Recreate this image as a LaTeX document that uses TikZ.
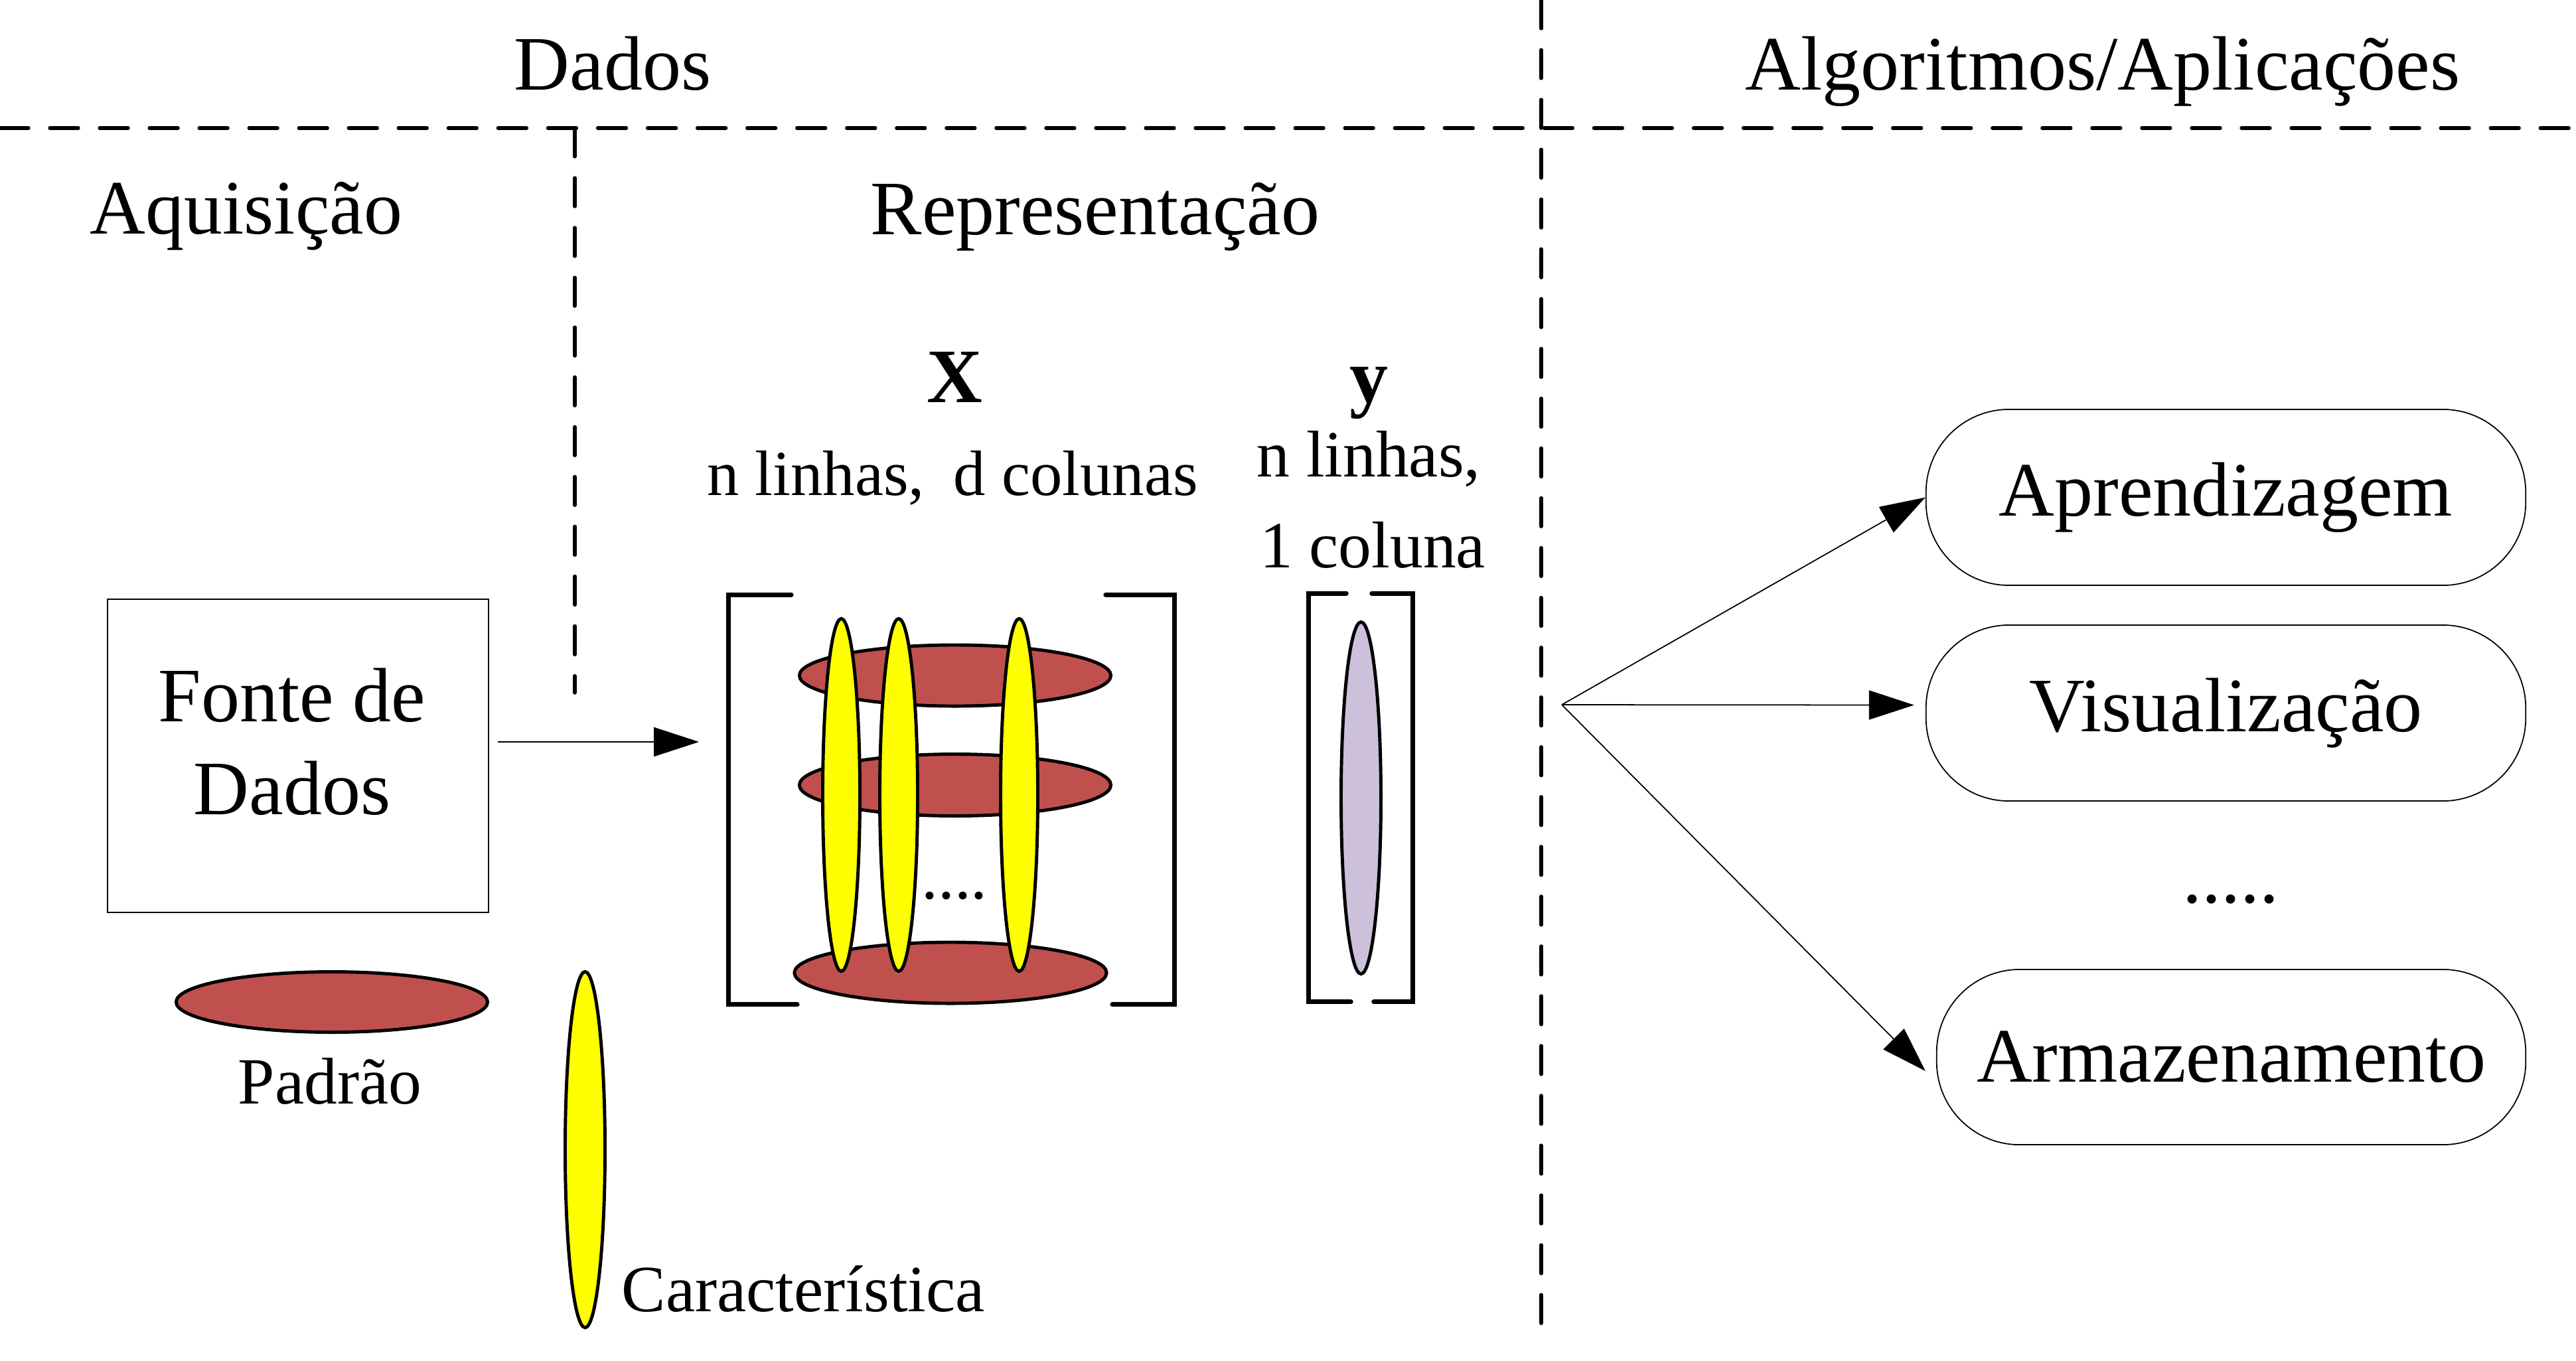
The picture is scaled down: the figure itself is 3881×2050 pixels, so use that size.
\documentclass[tikz,border=0pt]{standalone}
\usepackage{fontspec}
\setmainfont{Liberation Serif}
\usetikzlibrary{shapes.geometric,arrows.meta,calc}
\definecolor{pred}{HTML}{C0504D}
\definecolor{pyel}{HTML}{FFFF00}
\definecolor{plav}{HTML}{CCC0DA}
\begin{document}
\begin{tikzpicture}[x=0.01cm,y=-0.01cm,
  big/.style={font=\fontsize{33}{40}\selectfont, inner sep=0, anchor=base},
  small/.style={font=\fontsize{28.3}{34}\selectfont, inner sep=0, anchor=base},
  divider/.style={line width=1.5pt, line cap=round, dash pattern=on 0.43cm off 0.32cm},
  brk/.style={line width=2pt, line cap=round},
  blob/.style={ellipse, draw, line width=1.4pt, inner sep=0},
  pat/.style={blob, fill=pred},
  feat/.style={blob, fill=pyel},
  app/.style={draw, line width=0.5pt, rounded corners=1.25cm, minimum width=9.03cm, minimum height=2.65cm, font=\fontsize{33}{40}\selectfont, inner sep=0},
  arr/.style={line width=0.5pt, -{Triangle[length=0.68cm,width=0.44cm]}}
]
\useasboundingbox (0,0) rectangle (3881,2050);

% dividers
\coordinate (hl) at (0,193);
\coordinate (hr) at (3881,193);
\coordinate (vt) at (2322,0);
\coordinate (vb) at (2322,2000);
\coordinate (st) at (866,193);
\coordinate (sb) at (866,1044);
\draw[divider] (hl) -- (hr);
\draw[divider] (vt) -- (vb);
\draw[divider] (st) -- (sb);

% headings
\node[big] (tDados) at (923,135) {Dados};
\node[big] (tAlg) at (3168,135) {Algoritmos/Aplicações};
\node[big] (tAq) at (371,352) {Aquisição};
\node[big] (tRep) at (1650,353) {Representação};

% X and y captions
\node[big] (tX) at (1438,606) {\bfseries X};
\node[big] (ty) at (2062,606) {\bfseries y};
\node[font=\fontsize{27.5}{33}\selectfont, inner sep=0, anchor=base] (tXdim) at (1435,746) {n linhas,\hspace{0.44cm}d colunas};
\node[small] (ty1) at (2062,718) {n linhas,};
\node[small] (ty2) at (2068,855) {1 coluna};

% source box
\node[draw, line width=0.5pt, minimum width=5.74cm, minimum height=4.72cm, inner sep=0] (fonte) at (449,1139) {};
\node[big] (tf1) at (440,1087) {Fonte de};
\node[big] (tf2) at (440,1227) {Dados};

% legend
\node[pat, minimum width=4.69cm, minimum height=0.91cm] (legP) at (500,1510) {};
\node[small] (tPad) at (497,1663) {Padrão};
\node[feat, minimum width=0.60cm, minimum height=5.36cm] (legF) at (881.5,1732.5) {};
\node[small, anchor=base west] (tCar) at (936,1976) {Característica};

% X matrix
\node[inner sep=0, minimum width=6.71cm, minimum height=6.16cm] (Xmat) at (1433.5,1205) {};
\draw[brk] ($(Xmat.north west)+(95,0)$) -- (Xmat.north west) -- (Xmat.south west) -- ($(Xmat.south west)+(104,0)$);
\draw[brk] ($(Xmat.north east)+(-104,0)$) -- (Xmat.north east) -- (Xmat.south east) -- ($(Xmat.south east)+(-94,0)$);
\node[pat, minimum width=4.69cm, minimum height=0.92cm] (r1) at (1439,1018) {};
\node[pat, minimum width=4.69cm, minimum height=0.93cm] (r2) at (1439,1183) {};
\node[pat, minimum width=4.70cm, minimum height=0.92cm] (r3) at (1432,1466) {};
\node[feat, minimum width=0.56cm, minimum height=5.31cm] (f1) at (1267.5,1198) {};
\node[feat, minimum width=0.57cm, minimum height=5.31cm] (f2) at (1354,1198) {};
\node[feat, minimum width=0.56cm, minimum height=5.31cm] (f3) at (1535.5,1198) {};
\node[small] (tdots) at (1438,1354) {....};

% y vector
\node[inner sep=0, minimum width=1.56cm, minimum height=6.14cm] (Ymat) at (2050,1202) {};
\draw[brk] ($(Ymat.north west)+(57,0)$) -- (Ymat.north west) -- (Ymat.south west) -- ($(Ymat.south west)+(64,0)$);
\draw[brk] ($(Ymat.north east)+(-62,0)$) -- (Ymat.north east) -- (Ymat.south east) -- ($(Ymat.south east)+(-59,0)$);
\node[blob, fill=plav, minimum width=0.60cm, minimum height=5.30cm] (lav) at (2050.5,1202.5) {};

% arrow source -> X
\draw[arr] ($(fonte.east)+(13,-21)$) -- ($(Xmat.west)+(-44,-87)$);

% applications
\node[app] (box1) at (3353.5,749.5) {Aprendizagem};
\node[app] (box2) at (3353.5,1074.5) {Visualização};
\node[app, minimum width=8.87cm, minimum height=2.64cm] (box3) at (3361.5,1593) {Armazenamento};
\node[big] (tdots2) at (3361,1360) {.....};

\coordinate (fan) at (2353,1062);
\draw[arr] (fan) -- (box1.west);
\draw[arr] (fan) -- ($(box2.west)+(-17,-12)$);
\draw[arr] (fan) -- ($(box3.west)+(-16,21)$);
\end{tikzpicture}
\end{document}
